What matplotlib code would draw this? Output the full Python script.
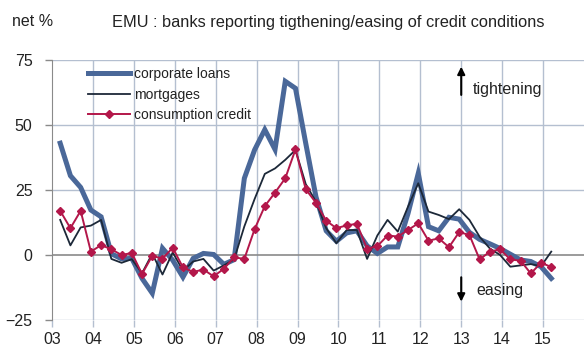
import numpy as np
import matplotlib
matplotlib.use("Agg")
import matplotlib.pyplot as plt

plt.rcParams['font.family'] = ['Liberation Sans', 'DejaVu Sans']

# Quarterly net percentages, 2003 Q1 onwards
corporate_loans = [43, 30.5, 26, 17.3, 14.7, 0.5, -1.5, -1.3, -9, -14.7,
                   2.6, -2, -8.5, -1.3, 0.6, 0.2, -3.6, -1.8, 29.5, 40.4,
                   48.2, 40.6, 66.8, 64.1, 43, 22.4, 9.3, 5.3, 8.5, 9.3,
                   3.5, 0.6, 3.1, 3.1, 16, 31.4, 10.9, 9.3, 14.5, 13.8,
                   8.7, 6, 4.3, 2.5, 0.3, -1.9, -2.5, -4.5, -9]
mortgages = [13.5, 3.7, 10.6, 11.3, 13.5, -1.5, -3, -1.6, -7, 0.5,
             -7.5, 1, -6, -2.5, -1.5, -6, -4, -1.7, 11, 21.5,
             31.2, 33.3, 36.6, 40.4, 27.3, 20.5, 10.3, 4.5, 9.6, 9.6,
             -1.5, 7.5, 13.5, 9, 18.6, 27.6, 16.7, 15.4, 13.8, 17.6,
             13.5, 7, 2.5, 0, -4.5, -4, -3.5, -4.3, 1.3]
consumption_credit = [17, 10.3, 17, 1.3, 3.8, 2.2, 0, 0.8, -7.3, -0.3,
                      -1.4, 2.8, -4.8, -6.5, -5.6, -8.2, -5.3, -0.9, -1.5, 9.9,
                      18.8, 24, 29.5, 40.6, 25.3, 20.1, 13.2, 10.3, 11.4, 12,
                      2.4, 3.4, 7.5, 7.1, 9.6, 12.2, 5.5, 6.4, 3.0, 8.8,
                      7.7, -1.7, 1.3, 2.2, -1.7, -2.2, -7.1, -3.0, -4.6]

series_labels = ["corporate loans", "mortgages", "consumption credit"]
years = list(range(2003, 2016))
year_labels = [f"{y % 100:02d}" for y in years]
y_ticks = [-25, 0, 25, 50, 75]

first_point = 2003.2
x = first_point + np.arange(len(corporate_loans)) / 4.0

fig = plt.figure(figsize=(5.84, 3.47), dpi=100)
ax = fig.add_axes([52 / 584, 1 - 320 / 347, 1 - 52 / 584, 260 / 347])

grid_col = "#b4bfd0"
for yr in years[1:]:
    ax.axvline(yr, color=grid_col, lw=1.0, zorder=0)
for yv in y_ticks:
    ax.axhline(yv, color="#8a8a8a" if yv == 0 else grid_col,
               lw=1.2 if yv == 0 else 1.0, zorder=0)

ax.plot(x, corporate_loans, color="#4a6899", lw=3.6, label=series_labels[0],
        solid_joinstyle="miter", zorder=2)
ax.plot(x, mortgages, color="#1c2838", lw=1.3, label=series_labels[1], zorder=3)
ax.plot(x, consumption_credit, color="#b3174a", lw=1.4, marker="D", ms=3.6,
        label=series_labels[2], zorder=4)

ax.set_xlim(2003, 2016)
ax.set_ylim(-25, 75)
ax.set_xticks(years)
ax.set_xticklabels(year_labels)
ax.set_yticks(y_ticks)
ax.tick_params(axis="both", labelsize=11.5, length=5, width=1, direction="out")
ax.tick_params(axis="x", colors=grid_col, labelcolor="#222222", pad=4)
ax.tick_params(axis="y", colors="#8a8a8a", labelcolor="#222222", pad=9)
for s in ["top", "right", "bottom"]:
    ax.spines[s].set_visible(False)
ax.spines["left"].set_color("#8a8a8a")

leg = ax.legend(loc="upper left", bbox_to_anchor=(0.058, 0.995), frameon=False,
                fontsize=10, handlelength=3.0, handletextpad=0.3,
                labelspacing=0.48, borderaxespad=0)
for t in leg.get_texts():
    t.set_color("#222222")

# Direction markers
ax.annotate("", xy=(2013.0, 73.5), xytext=(2013.0, 60.5),
            arrowprops=dict(arrowstyle="-|>", color="black", lw=1.5,
                            mutation_scale=11))
ax.text(2013.27, 63.5, "tightening", fontsize=11.5, va="center", ha="left",
        color="#222222")
ax.annotate("", xy=(2013.0, -19), xytext=(2013.0, -7.5),
            arrowprops=dict(arrowstyle="-|>", color="black", lw=1.5,
                            mutation_scale=11))
ax.text(2013.38, -13.8, "easing", fontsize=11.5, va="center", ha="left",
        color="#222222")

fig.text(12 / 584, 1 - 22 / 347, "net %", fontsize=11.5, va="center",
         ha="left", color="#222222")
fig.text(112 / 584, 1 - 22 / 347,
         "EMU : banks reporting tigthening/easing of credit conditions",
         fontsize=11.8, va="center", ha="left", color="#222222")

fig.savefig("out.png", dpi=100)
